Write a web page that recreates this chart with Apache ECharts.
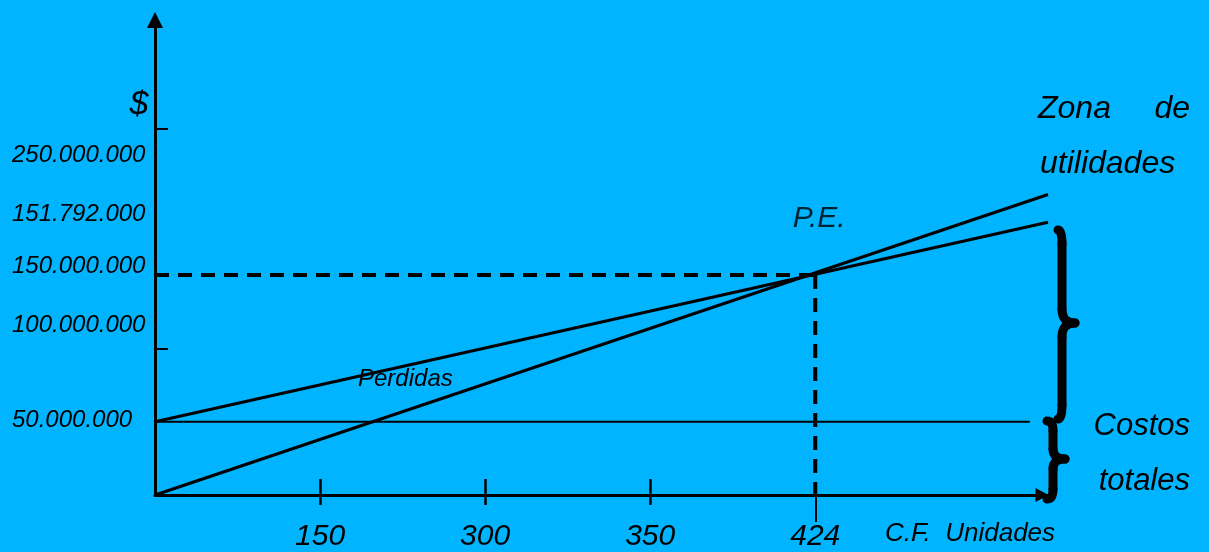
<!DOCTYPE html>
<html>
<head>
<meta charset="utf-8">
<script src="https://cdn.jsdelivr.net/npm/echarts@6/dist/echarts.min.js"></script>
<style>
  html, body { margin: 0; padding: 0; background: #00B4FF; }
  #chart { width: 1209px; height: 552px; }
</style>
</head>
<body>
<div id="chart"></div>
<script>
// Diagrama de punto de equilibrio (sin escala en el eje de unidades:
// cada marca del eje ocupa un tramo).
const xTickLabels = ['150', '300', '350', '424'];   // unidades
const xTickTramos = [1, 2, 3, 4];
const xTramoFinal = 5.41;

// Montos en millones de $
const yLabelValues = [50, 100, 150, 151.792, 250];
const yTickValues = [100, 150, 250];
const costoFijo = 50;
const puntoEquilibrio = [4, 150];                    // 424 unidades, $150.000.000
const ingresos = [[0, 0], [xTramoFinal, 205]];
const costosTotales = [[0, costoFijo], [xTramoFinal, 186]];
const costoFijoLinea = [[0, costoFijo], [5.30, costoFijo]];

const FONT = "'Liberation Sans', Arial, Helvetica, sans-serif";
const INK = '#000000';

function pesos(millones) {
  return String(Math.round(millones * 1e6)).replace(/\B(?=(\d{3})+(?!\d))/g, '.');
}

// desplazamiento vertical de cada rótulo del eje $ (px, negativo = arriba)
const yLabelShift = [-1, -23, -9, -58, 27];
const yRich = {};
yLabelShift.forEach((d, i) => {
  yRich['l' + i] = {
    fontSize: 24, fontStyle: 'italic', fontFamily: FONT, color: INK,
    padding: d < 0 ? [0, 0, -2 * d, 0] : [2 * d, 0, 0, 0]
  };
});

const chart = echarts.init(document.getElementById('chart'), null, { renderer: 'canvas' });

function bracePieces(xs, yTop, yMid, yBot, xTip, xEnd, r, w) {
  const st = { stroke: INK, lineWidth: w, lineCap: 'round', fill: null };
  return [
    { type: 'bezierCurve', shape: { x1: xEnd, y1: yTop, cpx1: xs, cpy1: yTop, x2: xs, y2: yTop + r }, style: st, silent: true },
    { type: 'line', shape: { x1: xs, y1: yTop + r, x2: xs, y2: yMid - r }, style: st, silent: true },
    { type: 'bezierCurve', shape: { x1: xs, y1: yMid - r, cpx1: xs, cpy1: yMid, x2: xTip, y2: yMid }, style: st, silent: true },
    { type: 'bezierCurve', shape: { x1: xTip, y1: yMid, cpx1: xs, cpy1: yMid, x2: xs, y2: yMid + r }, style: st, silent: true },
    { type: 'line', shape: { x1: xs, y1: yMid + r, x2: xs, y2: yBot - r }, style: st, silent: true },
    { type: 'bezierCurve', shape: { x1: xs, y1: yBot - r, cpx1: xs, cpy1: yBot, x2: xEnd, y2: yBot }, style: st, silent: true }
  ];
}

function txt(text, x, y, size, align) {
  return {
    type: 'text', x: x, y: y, silent: true,
    style: { text: text, fill: INK, fontSize: size, fontStyle: 'italic', fontFamily: FONT,
             align: align || 'left', verticalAlign: 'middle' }
  };
}

const baseX = {
  type: 'value', min: 0, max: xTramoFinal, position: 'bottom',
  splitLine: { show: false }
};

const option = {
  backgroundColor: '#00B4FF',
  animation: false,
  grid: { left: 155, right: 161, top: 20, bottom: 57, containLabel: false, outerBoundsMode: 'none' },
  xAxis: [
    Object.assign({}, baseX, {
      axisLine: { show: true, lineStyle: { color: INK, width: 3 }, symbol: ['none', 'triangle'], symbolSize: [14, 13], symbolOffset: [0, -6] },
      axisTick: { show: true, inside: true, length: 16, customValues: xTickTramos.slice(0, 3), lineStyle: { color: INK, width: 2.5 } },
      axisLabel: {
        show: true, customValues: xTickTramos, margin: 27,
        formatter: v => xTickLabels[xTickTramos.indexOf(Math.round(v))] || '',
        fontSize: 30, fontStyle: 'italic', fontFamily: FONT, color: INK
      }
    }),
    Object.assign({}, baseX, {
      axisLine: { show: false },
      axisTick: { show: true, inside: false, length: 10, customValues: xTickTramos.slice(0, 3), lineStyle: { color: INK, width: 2.5 } },
      axisLabel: { show: false }
    }),
    Object.assign({}, baseX, {
      axisLine: { show: false },
      axisTick: { show: true, inside: false, length: 27, customValues: [puntoEquilibrio[0]], lineStyle: { color: INK, width: 2 } },
      axisLabel: { show: false }
    })
  ],
  yAxis: {
    type: 'value', min: 0, max: 324,
    splitLine: { show: false },
    axisLine: { show: true, lineStyle: { color: INK, width: 3 }, symbol: ['none', 'triangle'], symbolSize: [16, 16], symbolOffset: [0, 0] },
    axisTick: { show: true, inside: true, length: 13, customValues: yTickValues, lineStyle: { color: INK, width: 2 } },
    axisLabel: {
      show: true, customValues: yLabelValues, align: 'left', margin: 143,
      formatter: v => {
        const i = yLabelValues.findIndex(u => Math.abs(u - v) < 1e-6);
        return i < 0 ? '' : '{l' + i + '|' + pesos(v) + '}';
      },
      rich: yRich
    }
  },
  series: [
    {
      name: 'Costo fijo', type: 'line', data: costoFijoLinea, symbol: 'none', silent: true,
      lineStyle: { color: INK, width: 2 }
    },
    {
      name: 'Costos totales', type: 'line', data: costosTotales, symbol: 'none', silent: true,
      lineStyle: { color: INK, width: 3 }
    },
    {
      name: 'Ingresos', type: 'line', data: ingresos, symbol: 'none', silent: true,
      lineStyle: { color: INK, width: 3 }
    },
    {
      name: 'P.E. horizontal', type: 'line', data: [[0, puntoEquilibrio[1]], puntoEquilibrio],
      symbol: 'none', silent: true, lineStyle: { color: INK, width: 4, type: [14, 9] }
    },
    {
      name: 'P.E. vertical', type: 'line', data: [puntoEquilibrio, [puntoEquilibrio[0], 0]],
      symbol: 'none', silent: true, lineStyle: { color: INK, width: 4, type: [14, 9] }
    },
    {
      name: 'P.E.', type: 'scatter', data: [puntoEquilibrio], symbolSize: 0, silent: true,
      label: {
        show: true, formatter: 'P.E.', position: 'inside', offset: [4, -56],
        fontSize: 30, fontStyle: 'italic', fontFamily: FONT, color: INK
      }
    }
  ],
  graphic: [
    txt('$', 139, 105, 34, 'center'),
    txt('Zona', 1038, 109, 32, 'left'),
    txt('de', 1190, 109, 32, 'right'),
    txt('utilidades', 1040, 164, 32, 'left'),
    txt('Perdidas', 358, 379, 24, 'left'),
    txt('Costos', 1190, 426, 31, 'right'),
    txt('totales', 1190, 481, 31, 'right'),
    txt('C.F.  Unidades', 885, 534, 26, 'left')
  ]
    .concat(bracePieces(1062, 230, 323, 419, 1075, 1058, 14, 9))
    .concat(bracePieces(1053, 421, 459, 499, 1065, 1047, 10, 9))
};

chart.setOption(option);
</script>
</body>
</html>
